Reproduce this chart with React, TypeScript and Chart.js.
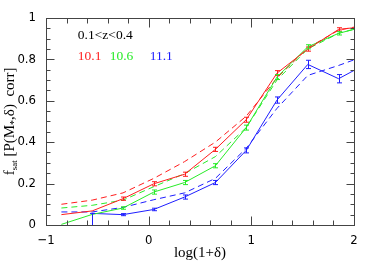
import React, { useEffect, useRef } from 'react';
import { Chart, registerables } from 'chart.js';
Chart.register(...registerables);

const xBins = [-0.85, -0.55, -0.25, 0.05, 0.35, 0.65, 0.95, 1.25, 1.55, 1.85, 2.0];
const redSolid = [0.05, 0.068, 0.127, 0.199, 0.245, 0.365, 0.508, 0.733, 0.849, 0.944, 0.952];
const redErrLow = [0, 0, 0.008, 0.01, 0.01, 0.01, 0.012, 0.012, 0.01, 0.008, 0];
const redErrHigh = [0, 0, 0.008, 0.01, 0.01, 0.01, 0.012, 0.012, 0.01, 0.008, 0];
const greenSolid = [0.003, 0.051, 0.082, 0.159, 0.205, 0.286, 0.47, 0.714, 0.86, 0.925, 0.944];
const greenErrLow = [0, 0, 0.006, 0.01, 0.01, 0.01, 0.012, 0.012, 0.01, 0.008, 0];
const greenErrHigh = [0, 0, 0.006, 0.01, 0.01, 0.01, 0.012, 0.012, 0.01, 0.008, 0];
const blueSolid = [null, 0.056, 0.05, 0.075, 0.135, 0.205, 0.36, 0.603, 0.775, 0.706, 0.746];
const blueErrLow = [0, 0.06, 0.005, 0.006, 0.01, 0.01, 0.012, 0.015, 0.02, 0.02, 0];
const blueErrHigh = [0, 0, 0.005, 0.006, 0.01, 0.01, 0.012, 0.015, 0.02, 0.02, 0];
const redDashed = [0.1, 0.12, 0.155, 0.225, 0.306, 0.4, 0.525, 0.71, 0.855, 0.94, 0.955];
const greenDashed = [0.082, 0.095, 0.12, 0.185, 0.248, 0.33, 0.47, 0.7, 0.85, 0.925, 0.945];
const blueDashed = [0.063, 0.063, 0.085, 0.122, 0.155, 0.225, 0.37, 0.563, 0.722, 0.77, 0.797];

const xTicks = [-1, 0, 1, 2];
const yTicks = [0, 0.2, 0.4, 0.6, 0.8, 1];
const massLabels = ['10.1', '10.6', '11.1'];
const zLabel = '0.1<z<0.4';

const RED = 'rgb(255,30,30)';
const GREEN = 'rgb(40,235,40)';
const BLUE = 'rgb(30,30,255)';

const pts = (ys: (number | null)[]) => xBins.map((x, i) => ({ x, y: ys[i] }));

const errs: Record<number, [number[], number[]]> = {
  0: [redErrLow, redErrHigh],
  1: [greenErrLow, greenErrHigh],
  2: [blueErrLow, blueErrHigh],
};

const decorPlugin = {
  id: 'decor',
  afterDatasetsDraw(chart: any) {
    const { ctx, chartArea, scales } = chart;
    const xs = scales.x, ys = scales.y;
    // error bars
    [0, 1, 2].forEach((di) => {
      const ds = chart.data.datasets[di];
      const [lo, hi] = errs[di];
      ctx.save();
      ctx.strokeStyle = ds.borderColor;
      ctx.lineWidth = 1;
      ctx.beginPath();
      ctx.rect(chartArea.left, chartArea.top, chartArea.right - chartArea.left, chartArea.bottom - chartArea.top);
      ctx.clip();
      ds.data.forEach((p: any, i: number) => {
        if (p.y == null || (!lo[i] && !hi[i])) return;
        const px = Math.round(xs.getPixelForValue(p.x)) + 0.5;
        const y1 = ys.getPixelForValue(p.y + hi[i]);
        const y2 = ys.getPixelForValue(p.y - lo[i]);
        ctx.beginPath();
        ctx.moveTo(px, y1); ctx.lineTo(px, y2);
        ctx.moveTo(px - 2.5, y1); ctx.lineTo(px + 2.5, y1);
        ctx.moveTo(px - 2.5, y2); ctx.lineTo(px + 2.5, y2);
        ctx.stroke();
      });
      ctx.restore();
    });
    // frame and ticks
    ctx.save();
    ctx.strokeStyle = '#444';
    ctx.lineWidth = 1;
    const L = Math.round(chartArea.left) + 0.5, R = Math.round(chartArea.right) + 0.5;
    const T = Math.round(chartArea.top) + 0.5, B = Math.round(chartArea.bottom) + 0.5;
    ctx.strokeRect(L, T, R - L, B - T);
    ctx.beginPath();
    for (let k = 0; k <= 15; k++) {
      const v = -1 + k * 0.2;
      const px = Math.round(xs.getPixelForValue(v)) + 0.5;
      const len = k % 5 === 0 ? 9 : 5;
      ctx.moveTo(px, B); ctx.lineTo(px, B - len);
      ctx.moveTo(px, T); ctx.lineTo(px, T + len);
    }
    for (let k = 0; k <= 20; k++) {
      const v = k * 0.05;
      const py = Math.round(ys.getPixelForValue(v)) + 0.5;
      const len = k % 4 === 0 ? 8 : 4;
      ctx.moveTo(L, py); ctx.lineTo(L + len, py);
      ctx.moveTo(R, py); ctx.lineTo(R - len, py);
    }
    ctx.stroke();

    // annotations
    ctx.fillStyle = '#000';
    ctx.font = '13.5px "Liberation Serif", serif';
    ctx.textBaseline = 'middle';
    ctx.textAlign = 'left';
    ctx.fillText(zLabel, xs.getPixelForValue(-0.69), ys.getPixelForValue(0.914));
    const mx = [-0.69, -0.38, 0.01];
    const mc = [RED, GREEN, BLUE];
    massLabels.forEach((t, i) => {
      ctx.fillStyle = mc[i];
      ctx.fillText(t, xs.getPixelForValue(mx[i]), ys.getPixelForValue(0.814));
    });

    // x title
    ctx.fillStyle = '#000';
    ctx.font = '15px "Liberation Serif", serif';
    ctx.textAlign = 'center';
    ctx.textBaseline = 'alphabetic';
    ctx.fillText('log(1+δ)', (chartArea.left + chartArea.right) / 2, 257);

    // y title
    ctx.translate(14, (chartArea.top + chartArea.bottom) / 2);
    ctx.rotate(-Math.PI / 2);
    const parts: [string, number, number][] = [
      ['f', 15, 0], ['sat', 9, 3], [' [P(M', 15, 0], ['*', 10, 3], [',δ)  corr]', 15, 0],
    ];
    let total = 0;
    parts.forEach(([t, s]) => { ctx.font = `${s}px "Liberation Serif", serif`; total += ctx.measureText(t).width; });
    let cx = -total / 2;
    ctx.textAlign = 'left';
    parts.forEach(([t, s, dy]) => {
      ctx.font = `${s}px "Liberation Serif", serif`;
      ctx.fillText(t, cx, dy);
      cx += ctx.measureText(t).width;
    });
    ctx.restore();
  },
};

export default function App() {
  const ref = useRef<HTMLCanvasElement>(null);
  useEffect(() => {
    document.body.style.margin = '0';
    const dash = [6, 4];
    const chart = new Chart(ref.current!, {
      type: 'scatter',
      data: {
        datasets: [
          { data: pts(redSolid), borderColor: RED, showLine: true, borderWidth: 1, pointRadius: 0 },
          { data: pts(greenSolid), borderColor: GREEN, showLine: true, borderWidth: 1, pointRadius: 0 },
          { data: pts(blueSolid), borderColor: BLUE, showLine: true, borderWidth: 1, pointRadius: 0 },
          { data: pts(redDashed), borderColor: RED, showLine: true, borderWidth: 1, pointRadius: 0, borderDash: dash },
          { data: pts(greenDashed), borderColor: GREEN, showLine: true, borderWidth: 1, pointRadius: 0, borderDash: dash },
          { data: pts(blueDashed), borderColor: BLUE, showLine: true, borderWidth: 1, pointRadius: 0, borderDash: dash },
        ],
      },
      options: {
        responsive: false,
        animation: false,
        events: [],
        layout: { padding: { left: 0, right: 20, top: 15, bottom: 0 } },
        plugins: { legend: { display: false }, tooltip: { enabled: false } },
        scales: {
          x: {
            type: 'linear', min: -1, max: 2,
            afterFit: (s: any) => { s.height = 40; },
            afterBuildTicks: (s: any) => { s.ticks = xTicks.map((v) => ({ value: v })); },
            grid: { display: false, drawTicks: false },
            border: { display: false },
            ticks: {
              padding: 8, color: '#000',
              font: { family: '"Liberation Sans Narrow", "DejaVu Sans Condensed", "Liberation Sans"', size: 13 },
              callback: (v: any) => (v < 0 ? '−' + Math.abs(v) : String(v)),
            },
          },
          y: {
            type: 'linear', min: 0, max: 1,
            afterFit: (s: any) => { s.width = 46; },
            afterBuildTicks: (s: any) => { s.ticks = yTicks.map((v) => ({ value: v })); },
            grid: { display: false, drawTicks: false },
            border: { display: false },
            ticks: {
              padding: 10, color: '#000',
              font: { family: '"Liberation Sans Narrow", "DejaVu Sans Condensed", "Liberation Sans"', size: 13 },
              callback: (v: any) => String(Math.round(v * 10) / 10),
            },
          },
        },
      },
      plugins: [decorPlugin],
    });
    return () => chart.destroy();
  }, []);
  return (
    <div style={{ width: 374, height: 265 }}>
      <canvas ref={ref} width={374} height={265} />
    </div>
  );
}
